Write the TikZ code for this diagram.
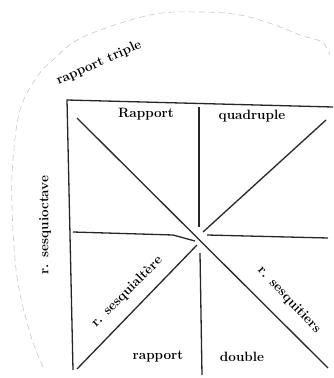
\documentclass[tikz,border=0pt]{standalone}
\usepackage{tikz}
\usetikzlibrary{positioning}
\begin{document}
\begin{tikzpicture}[x=1pt,y=-1pt,
  edge/.style={line width=1.3pt,black!85},
  lbl/.style={font=\fontsize{13.5}{15}\selectfont\bfseries,inner sep=1pt},
  arcline/.style={dash pattern=on 6pt off 4pt,black!22,line width=0.6pt}]
  \useasboundingbox (0,0) rectangle (333,378);
  % frame and crossing
  \coordinate (tl) at (67,100);
  \coordinate (tr) at (333,107);
  \coordinate (bl) at (73,370);
  \coordinate (dtl) at (77,118);
  \coordinate (dbr) at (328,368);
  \coordinate (dtr) at (326,120);
  \coordinate (dtrin) at (203,232);
  \coordinate (dblin) at (197,245);
  \coordinate (dbl) at (77,369);
  \coordinate (hl) at (73,232);
  \coordinate (hlin) at (195,241);
  \coordinate (hrin) at (207,235);
  \coordinate (hr) at (328,238);
  \coordinate (vt) at (199,107);
  \coordinate (vtin) at (199,227);
  \coordinate (vbin) at (200,253);
  \coordinate (vb) at (202,375);
  \draw[edge] (bl) -- (tl) -- (tr);
  \draw[edge] (dtl) -- (dbr);
  \draw[edge] (dtr) -- (dtrin);
  \draw[edge] (dblin) -- (dbl);
  \draw[edge] (hl) -- (173,235) -- (hlin);
  \draw[edge] (hrin) -- (hr);
  \draw[edge] (vt) -- (vtin);
  \draw[edge] (vbin) -- (vb);
  % outer arc
  \draw[arcline] plot[smooth,tension=0.6] coordinates {(43,367) (30,333) (17,277)
    (12,207) (13,160) (20,110) (37,77) (53,60) (83,37) (150,15) (200,12)
    (240,15) (275,25) (300,35) (322,42) (330,55)};
  % labels
  \node[lbl,rotate=24] (triple) at (99,63) {rapport triple};
  \node[lbl] (rapp) at (146,114) {Rapport};
  \node[lbl] (quad) at (252,116) {quadruple};
  \node[lbl,rotate=90] (octave) at (45,225) {r. sesquioctave};
  \node[lbl,rotate=45] (altere) at (127,292) {r. sesquialtère};
  \node[lbl,rotate=-47] (tiers) at (289,300) {r. sesquitiers};
  \node[lbl] (rapbas) at (158,357) {rapport};
  \node[lbl] (double) at (242,357) {double};
\end{tikzpicture}
\end{document}
